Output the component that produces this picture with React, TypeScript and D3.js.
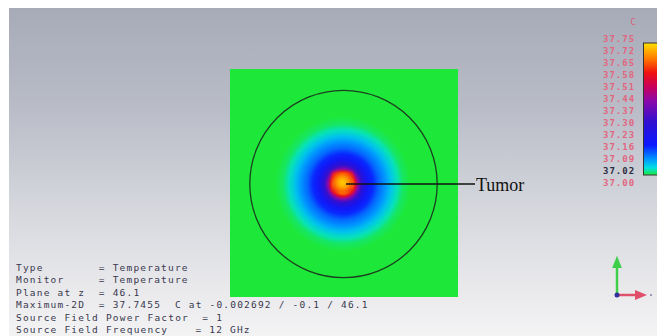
import * as d3 from "d3";

// colour legend (degrees C)
const legendLabels = ["37.75", "37.72", "37.65", "37.58", "37.51", "37.44", "37.37", "37.30", "37.23", "37.16", "37.09", "37.02", "37.00"];
const highlightLabel = "37.02";
const scaleTemps = [37.0, 37.04, 37.09, 37.17, 37.3, 37.42, 37.5, 37.58, 37.66, 37.75];
const scaleColors = ["#1de83a", "#00e0e0", "#0096ff", "#0a18ff", "#3010d0", "#8a08aa", "#c8005c", "#f01010", "#ff7800", "#ffe000"];

// radial temperature profile through the tumour, distance as fraction of phantom radius
const profileDist = [0, 0.05, 0.1, 0.13, 0.16, 0.2, 0.26, 0.32, 0.38, 0.45, 0.51, 0.58, 0.64, 0.72];
const profileTemp = [37.745, 37.72, 37.66, 37.56, 37.42, 37.3, 37.2, 37.16, 37.12, 37.09, 37.06, 37.03, 37.01, 37.0];

const infoLabels = ["Type", "Monitor", "Plane at z", "Maximum-2D", "Source Field Power Factor", "Source Field Frequency"];
const infoValues = ["Temperature", "Temperature", "46.1", "37.7455  C at -0.002692 / -0.1 / 46.1", "1", "12 GHz"];
const infoEqCol = [12, 12, 12, 12, 27, 26];

const W = 657;
const H = 336;
const plot = { x: 230, y: 69, size: 228 };
const field = { cx: 343, cy: 184, r: 93.7 };

export default function App() {
  const color = d3.scaleLinear<string>().domain(scaleTemps).range(scaleColors).clamp(true);
  const rScale = d3.scaleLinear().domain([0, 1]).range([0, field.r]);
  const legendY = d3.scalePoint<string>().domain(legendLabels).range([39, 183]);
  const barY = d3.scaleLinear().domain([37.0, 37.75]).range([175, 43]);
  const infoY = d3.scaleLinear().domain([0, 5]).range([271, 333]);
  const charW = 6.9;
  const maxR = rScale(profileDist[profileDist.length - 1]);

  const mono = "'DejaVu Sans Mono', monospace";

  return (
    <svg width={W} height={H} style={{ position: "absolute", left: 0, top: 0 }}>
      <defs>
        <linearGradient id="bg" x1="0" y1="0" x2="0" y2="1">
          <stop offset="0" stopColor="#a7abb8" />
          <stop offset="0.3" stopColor="#b9bcc7" />
          <stop offset="0.6" stopColor="#d4d6dc" />
          <stop offset="0.85" stopColor="#e9e9ec" />
          <stop offset="1" stopColor="#f3f3f4" />
        </linearGradient>
        <radialGradient id="heat" gradientUnits="userSpaceOnUse" cx={field.cx} cy={field.cy} r={maxR}>
          {profileDist.map((d, i) => (
            <stop key={i} offset={rScale(d) / maxR} stopColor={color(profileTemp[i])} />
          ))}
        </radialGradient>
        <radialGradient id="core" cx="0.5" cy="0.5" r="0.6">
          <stop offset="0" stopColor={color(37.745)} />
          <stop offset="0.45" stopColor={color(37.69)} />
          <stop offset="0.8" stopColor={color(37.62)} />
          <stop offset="1" stopColor={color(37.56)} />
        </radialGradient>
        <filter id="soft" x="-50%" y="-50%" width="200%" height="200%">
          <feGaussianBlur stdDeviation="1.4" />
        </filter>
        <linearGradient id="bar" x1="0" y1="1" x2="0" y2="0">
          {scaleTemps.map((t, i) => (
            <stop key={i} offset={(barY(37.0) - barY(t)) / (barY(37.0) - barY(37.75))} stopColor={scaleColors[i]} />
          ))}
        </linearGradient>
        <marker id="arrG" viewBox="0 0 10 10" refX="5" refY="5" markerWidth="5" markerHeight="6" orient="auto">
          <path d="M0,1 L10,5 L0,9 Z" fill="#3fd04a" />
        </marker>
        <marker id="arrR" viewBox="0 0 10 10" refX="5" refY="5" markerWidth="5" markerHeight="6" orient="auto">
          <path d="M0,1 L10,5 L0,9 Z" fill="#e0506a" />
        </marker>
      </defs>

      <rect x={0} y={0} width={W} height={H} fill="#ffffff" />
      <rect x={9} y={8} width={W - 9} height={H - 8} fill="url(#bg)" />

      {/* field plane */}
      <rect x={plot.x} y={plot.y} width={plot.size} height={plot.size} fill={color(37.0)} />
      <circle cx={field.cx} cy={field.cy} r={maxR} fill="url(#heat)" />
      <rect x={field.cx - 11} y={field.cy - 12} width={21} height={21} fill="url(#core)" filter="url(#soft)" />
      <circle cx={field.cx + 0.5} cy={field.cy} r={field.r} fill="none" stroke="#1c3f1f" strokeWidth={1.3} />

      {/* tumour annotation */}
      <line x1={field.cx + 3} y1={field.cy} x2={475} y2={field.cy} stroke="#111" strokeWidth={1.4} />
      <text x={476} y={191} fontFamily="'Liberation Serif', 'Times New Roman', serif" fontSize={18} fill="#111">
        Tumor
      </text>

      {/* colour legend */}
      <text x={633} y={25} fontFamily={mono} fontSize={9} fill="#d8607a" textAnchor="middle">C</text>
      {legendLabels.map((l) => (
        <text
          key={l}
          x={603}
          y={(legendY(l) ?? 0) + 3}
          fontFamily={mono}
          fontSize={9}
          letterSpacing={1}
          fontWeight="bold"
          fill={l === highlightLabel ? "#2c2c40" : "#e2657e"}
        >
          {l}
        </text>
      ))}
      <rect x={643.5} y={barY(37.75)} width={14} height={barY(37.0) - barY(37.75)} fill="url(#bar)" stroke="#333" strokeWidth={1} />

      {/* info block */}
      {infoLabels.map((l, i) => (
        <g key={l} fontFamily={mono} fontSize={9.5} letterSpacing={1.2} fill="#38384e">
          <text x={16} y={infoY(i)}>{l}</text>
          <text x={16 + infoEqCol[i] * charW} y={infoY(i)} style={{ whiteSpace: "pre" }}>
            {"= " + infoValues[i]}
          </text>
        </g>
      ))}

      {/* axis triad */}
      <line x1={617} y1={295} x2={617} y2={262} stroke="#3fd04a" strokeWidth={2.5} markerEnd="url(#arrG)" />
      <line x1={617} y1={295} x2={641} y2={295} stroke="#e0506a" strokeWidth={2.5} markerEnd="url(#arrR)" />
      <circle cx={617} cy={295} r={2.5} fill="#3030a0" />
      <circle cx={651} cy={295} r={1} fill="#8080b0" />
    </svg>
  );
}
